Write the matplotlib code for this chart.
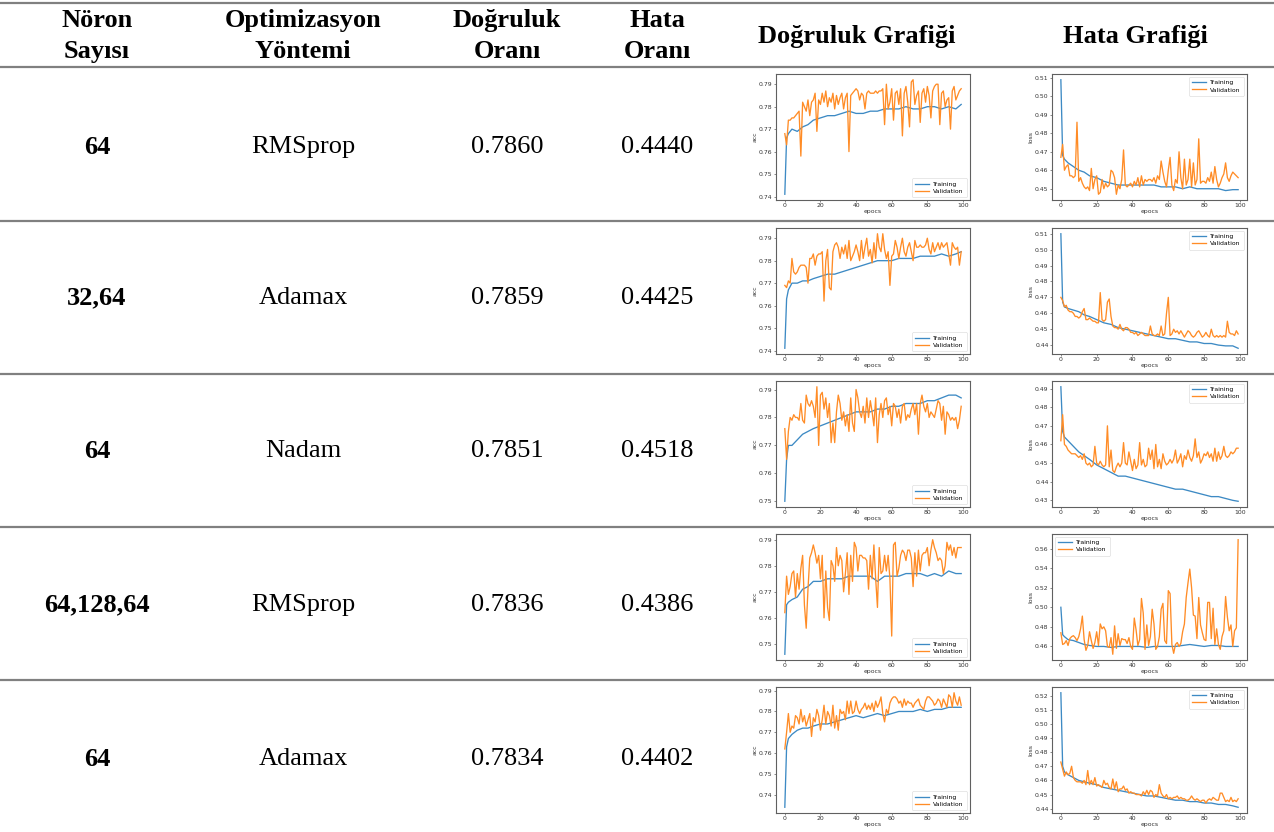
import matplotlib.pyplot as plt
from matplotlib.lines import Line2D

# ------------------------------------------------------------
# table data
# ------------------------------------------------------------
HEADERS = ["Nöron\nSayısı", "Optimizasyon\nYöntemi", "Doğruluk\nOranı",
           "Hata\nOranı", "Doğruluk Grafiği", "Hata Grafiği"]
NEURONS = ["64", "32,64", "64", "64,128,64", "64"]
OPTIMIZERS = ["RMSprop", "Adamax", "Nadam", "RMSprop", "Adamax"]
ACCURACY = ["0.7860", "0.7859", "0.7851", "0.7836", "0.7834"]
LOSS = ["0.4440", "0.4425", "0.4518", "0.4386", "0.4402"]

# ------------------------------------------------------------
# curve data
# ------------------------------------------------------------
VAL_EPOCHS = list(range(100))
TRAIN_EPOCHS = [0, 1, 2, 4, 7, 10, 13, 16, 20, 24, 28, 32, 36, 40, 44,
                48, 52, 56, 60, 64, 68, 72, 76, 80, 84, 88, 92, 96, 99]

ACC_TRAIN_1 = [.741, .766, .768, .770, .769, .771, .772, .774, .775, .776,
               .776, .777, .778, .777, .777, .778, .778, .779, .779, .779,
               .780, .779, .779, .780, .780, .779, .780, .779, .781]
ACC_VAL_1 = [.768, .763, .774, .774, .775, .775, .776, .777, .778, .758,
             .782, .780, .778, .783, .776, .782, .783, .786, .769, .783,
             .781, .786, .782, .787, .780, .784, .782, .786, .779, .785,
             .781, .784, .786, .779, .784, .786, .760, .785, .786, .787,
             .788, .787, .783, .786, .785, .779, .786, .787, .786, .786,
             .786, .787, .786, .787, .787, .788, .772, .790, .779, .782,
             .788, .774, .786, .787, .781, .788, .767, .786, .789, .782,
             .771, .791, .792, .781, .785, .787, .773, .786, .788, .782,
             .789, .785, .775, .787, .789, .790, .790, .772, .786, .787,
             .780, .783, .784, .770, .787, .789, .783, .785, .787, .788]
LOSS_TRAIN_1 = [.509, .468, .466, .464, .462, .460, .459, .457, .456, .454,
                .453, .452, .452, .452, .452, .452, .452, .451, .451, .451,
                .450, .451, .450, .450, .450, .450, .449, .4495, .4495]
LOSS_VAL_1 = [.467, .474, .460, .462, .463, .457, .457, .456, .457, .486,
              .454, .456, .453, .451, .450, .451, .449, .461, .450, .455,
              .457, .447, .448, .455, .450, .453, .451, .452, .460, .459,
              .456, .447, .452, .450, .455, .471, .452, .451, .452, .453,
              .451, .454, .452, .456, .451, .457, .452, .455, .454, .455,
              .455, .454, .456, .453, .457, .455, .465, .459, .454, .451,
              .460, .467, .452, .449, .455, .453, .470, .456, .450, .466,
              .452, .455, .466, .451, .464, .452, .455, .477, .453, .454,
              .454, .453, .456, .454, .459, .453, .462, .455, .451, .453,
              .456, .458, .464, .456, .454, .457, .459, .458, .457, .456]

ACC_TRAIN_2 = [.741, .763, .767, .770, .770, .771, .771, .772, .773, .774,
               .774, .775, .776, .777, .778, .779, .780, .780, .780, .781,
               .781, .781, .782, .782, .782, .783, .782, .783, .784]
ACC_VAL_2 = [.769, .768, .771, .770, .781, .775, .774, .775, .777, .778,
             .778, .778, .777, .770, .781, .781, .783, .778, .782, .783,
             .783, .784, .762, .780, .785, .768, .767, .784, .787, .788,
             .786, .781, .786, .783, .787, .781, .789, .780, .782, .784,
             .787, .784, .780, .789, .781, .786, .790, .782, .785, .779,
             .788, .781, .792, .786, .784, .792, .785, .781, .784, .769,
             .782, .783, .789, .786, .781, .786, .790, .784, .782, .786,
             .788, .784, .780, .789, .786, .786, .787, .786, .786, .787,
             .790, .785, .783, .788, .784, .786, .788, .785, .788, .786,
             .787, .788, .783, .778, .788, .786, .785, .786, .778, .784]
LOSS_TRAIN_2 = [.510, .467, .464, .463, .462, .461, .459, .458, .456, .454,
                .453, .451, .450, .449, .448, .447, .446, .445, .444, .444,
                .443, .442, .442, .441, .441, .440, .4395, .4395, .438]
LOSS_VAL_2 = [.470, .468, .464, .465, .462, .461, .461, .460, .458, .458,
              .457, .458, .461, .463, .456, .456, .457, .456, .455, .455,
              .454, .454, .473, .456, .455, .456, .467, .469, .458, .452,
              .451, .451, .450, .453, .450, .449, .451, .451, .450, .448,
              .448, .447, .448, .446, .447, .448, .447, .446, .446, .446,
              .452, .447, .446, .446, .447, .446, .452, .446, .447, .460,
              .470, .446, .447, .450, .448, .449, .447, .449, .447, .445,
              .447, .449, .448, .446, .445, .446, .448, .449, .447, .445,
              .446, .448, .446, .445, .450, .446, .445, .446, .445, .446,
              .445, .446, .445, .455, .448, .447, .447, .446, .449, .447]

ACC_TRAIN_3 = [.750, .765, .770, .770, .772, .774, .775, .776, .777, .778,
               .779, .780, .781, .782, .782, .782, .783, .783, .784, .784,
               .785, .785, .785, .786, .786, .787, .788, .788, .787]
ACC_VAL_3 = [.776, .765, .775, .780, .779, .781, .780, .780, .779, .785,
             .779, .778, .788, .785, .784, .786, .784, .780, .791, .770,
             .788, .789, .783, .787, .780, .785, .771, .778, .771, .782,
             .788, .785, .779, .782, .777, .781, .775, .787, .778, .775,
             .790, .787, .782, .780, .784, .778, .787, .780, .786, .782,
             .777, .787, .771, .781, .785, .780, .786, .787, .781, .784,
             .777, .785, .784, .780, .783, .778, .784, .785, .779, .781,
             .780, .783, .785, .781, .785, .774, .785, .788, .784, .782,
             .785, .780, .782, .781, .780, .783, .786, .785, .779, .784,
             .774, .782, .781, .779, .780, .779, .780, .776, .779, .784]
LOSS_TRAIN_3 = [.491, .467, .464, .462, .459, .456, .454, .452, .449, .447,
                .445, .443, .443, .442, .441, .440, .439, .438, .437, .436,
                .436, .435, .434, .433, .432, .432, .431, .430, .4295]
LOSS_VAL_3 = [.462, .476, .460, .459, .457, .456, .455, .455, .455, .454,
              .453, .454, .452, .455, .450, .449, .450, .448, .449, .459,
              .450, .449, .451, .449, .448, .449, .470, .448, .457, .446,
              .445, .448, .450, .448, .450, .461, .450, .449, .456, .451,
              .446, .452, .447, .449, .461, .449, .452, .448, .449, .458,
              .452, .457, .447, .460, .448, .452, .447, .455, .451, .449,
              .450, .452, .450, .452, .457, .450, .452, .455, .448, .454,
              .452, .457, .453, .451, .454, .463, .453, .456, .450, .452,
              .455, .454, .456, .453, .455, .451, .458, .451, .456, .452,
              .454, .459, .454, .453, .454, .456, .455, .456, .458, .458]

ACC_TRAIN_4 = [.746, .765, .766, .767, .768, .771, .772, .774, .774, .775,
               .775, .775, .776, .776, .776, .776, .774, .776, .776, .776,
               .777, .777, .777, .776, .777, .776, .778, .777, .777]
ACC_VAL_4 = [.762, .776, .769, .772, .777, .778, .768, .777, .771, .779,
             .784, .765, .756, .771, .783, .785, .788, .785, .781, .784,
             .775, .784, .760, .778, .764, .759, .782, .780, .774, .787,
             .780, .784, .782, .770, .777, .785, .769, .784, .774, .789,
             .787, .778, .784, .784, .783, .783, .782, .771, .784, .775,
             .788, .775, .764, .787, .777, .778, .784, .778, .784, .775,
             .753, .788, .789, .776, .779, .784, .786, .785, .782, .786,
             .786, .783, .772, .785, .776, .786, .778, .784, .785, .785,
             .787, .780, .786, .790, .787, .785, .782, .783, .782, .777,
             .780, .789, .786, .788, .784, .787, .783, .787, .787, .787]
LOSS_TRAIN_4 = [.500, .472, .470, .467, .466, .464, .462, .461, .460, .460,
                .459, .460, .460, .460, .460, .459, .460, .460, .460, .460,
                .461, .462, .461, .460, .461, .461, .460, .460, .460]
LOSS_VAL_4 = [.474, .462, .463, .466, .461, .468, .470, .471, .469, .466,
              .470, .478, .491, .467, .456, .461, .475, .466, .458, .464,
              .475, .461, .483, .478, .480, .476, .460, .459, .469, .452,
              .481, .458, .473, .461, .468, .467, .467, .463, .469, .460,
              .457, .489, .477, .461, .467, .509, .494, .457, .482, .461,
              .470, .498, .483, .457, .460, .470, .498, .504, .466, .463,
              .517, .514, .462, .453, .462, .464, .460, .463, .475, .483,
              .510, .525, .539, .520, .492, .491, .468, .510, .482, .474,
              .467, .466, .505, .505, .468, .499, .462, .478, .462, .457,
              .470, .476, .511, .490, .476, .482, .460, .476, .479, .569]

ACC_TRAIN_5 = [.734, .763, .767, .769, .771, .772, .772, .773, .774, .774,
               .775, .776, .777, .778, .777, .778, .779, .778, .779, .780,
               .780, .780, .781, .780, .781, .781, .782, .782, .782]
ACC_VAL_5 = [.762, .770, .779, .770, .773, .772, .778, .777, .774, .781,
             .775, .778, .773, .776, .779, .768, .777, .775, .781, .778,
             .771, .776, .783, .774, .780, .778, .773, .783, .772, .778,
             .771, .781, .779, .780, .776, .785, .779, .785, .779, .780,
             .785, .781, .779, .781, .782, .784, .781, .783, .781, .784,
             .780, .785, .782, .784, .787, .779, .775, .781, .779, .784,
             .786, .787, .787, .786, .784, .785, .782, .786, .783, .785,
             .784, .784, .782, .784, .785, .786, .783, .782, .781, .785,
             .787, .787, .786, .785, .783, .784, .786, .785, .782, .786,
             .784, .782, .788, .787, .782, .789, .785, .783, .787, .783]
LOSS_TRAIN_5 = [.522, .470, .466, .464, .462, .460, .459, .458, .457, .455,
                .454, .453, .452, .451, .450, .449, .449, .448, .447, .446,
                .446, .445, .445, .444, .444, .443, .443, .442, .441]
LOSS_VAL_5 = [.473, .468, .463, .466, .464, .465, .470, .462, .460, .459,
              .459, .459, .458, .460, .457, .467, .457, .460, .457, .462,
              .456, .457, .456, .455, .460, .457, .458, .455, .454, .461,
              .454, .459, .452, .454, .454, .456, .453, .454, .451, .452,
              .451, .451, .450, .450, .450, .449, .452, .450, .453, .450,
              .453, .452, .448, .450, .449, .457, .451, .449, .448, .450,
              .447, .448, .447, .448, .448, .449, .447, .448, .447, .447,
              .446, .446, .447, .449, .447, .446, .447, .446, .445, .446,
              .446, .444, .446, .447, .446, .448, .447, .446, .446, .451,
              .451, .448, .445, .446, .445, .448, .445, .446, .445, .447]

ACC_TRAIN = [ACC_TRAIN_1, ACC_TRAIN_2, ACC_TRAIN_3, ACC_TRAIN_4, ACC_TRAIN_5]
ACC_VAL = [ACC_VAL_1, ACC_VAL_2, ACC_VAL_3, ACC_VAL_4, ACC_VAL_5]
LOSS_TRAIN = [LOSS_TRAIN_1, LOSS_TRAIN_2, LOSS_TRAIN_3, LOSS_TRAIN_4, LOSS_TRAIN_5]
LOSS_VAL = [LOSS_VAL_1, LOSS_VAL_2, LOSS_VAL_3, LOSS_VAL_4, LOSS_VAL_5]
LOSS_LEGEND_LOC = ["upper right", "upper right", "upper right",
                   "upper left", "upper right"]

# ------------------------------------------------------------
# layout (pixels)
# ------------------------------------------------------------
W, H = 1274, 832
COL_X = [97, 303, 507, 657, 857, 1135]
HEADER_Y = 36
ROW_LINES = [3, 67, 221, 374, 527, 680]
ROW_Y = [147, 298, 451, 605, 759]
SERIF = "Liberation Serif"

fig = plt.figure(figsize=(W / 100, H / 100), dpi=100)


def fx(x):
    return x / W


def fy(y):
    return 1 - y / H


for y in ROW_LINES:
    fig.add_artist(Line2D([0, 1], [fy(y), fy(y)], color="#808080",
                          linewidth=1.6, transform=fig.transFigure))

for x, label in zip(COL_X, HEADERS):
    fig.text(fx(x), fy(HEADER_Y), label, ha="center", va="center",
             fontsize=19, fontweight="bold", family=SERIF, linespacing=1.42)

for i, y in enumerate(ROW_Y):
    fig.text(fx(COL_X[0]), fy(y), NEURONS[i], ha="center", va="center",
             fontsize=19, fontweight="bold", family=SERIF)
    fig.text(fx(COL_X[1]), fy(y), OPTIMIZERS[i], ha="center", va="center",
             fontsize=19, family=SERIF)
    fig.text(fx(COL_X[2]), fy(y), ACCURACY[i], ha="center", va="center",
             fontsize=19, family=SERIF)
    fig.text(fx(COL_X[3]), fy(y), LOSS[i], ha="center", va="center",
             fontsize=19, family=SERIF)


def mini_plot(left, top, width, height, train, val, ylabel, loc):
    ax = fig.add_axes([fx(left), fy(top + height), width / W, height / H])
    ax.plot(TRAIN_EPOCHS, train, color="#3d8ac4", linewidth=0.95,
            label="Training")
    ax.plot(VAL_EPOCHS, val, color="#ff8c26", linewidth=0.95,
            label="Validation")
    ax.set_xticks([0, 20, 40, 60, 80, 100])
    ax.tick_params(labelsize=4.4, length=1.5, width=0.4, pad=1,
                   colors="#333333")
    ax.set_xlabel("epocs", fontsize=4.4, labelpad=0.5, color="#333333")
    ax.set_ylabel(ylabel, fontsize=4.4, labelpad=1, color="#333333")
    for s in ax.spines.values():
        s.set_linewidth(0.8)
        s.set_color("#606060")
    leg = ax.legend(loc=loc, fontsize=4.4, handlelength=2.2,
                    borderpad=0.5, labelspacing=0.3, framealpha=0.8)
    leg.get_frame().set_linewidth(0.4)
    return ax


for i in range(5):
    top = ROW_LINES[i + 1] + 7
    mini_plot(776, top, 194, 126, ACC_TRAIN[i], ACC_VAL[i], "acc",
              "lower right")
    mini_plot(1052, top, 195, 126, LOSS_TRAIN[i], LOSS_VAL[i], "loss",
              LOSS_LEGEND_LOC[i])

fig.savefig("out.png", dpi=100)
